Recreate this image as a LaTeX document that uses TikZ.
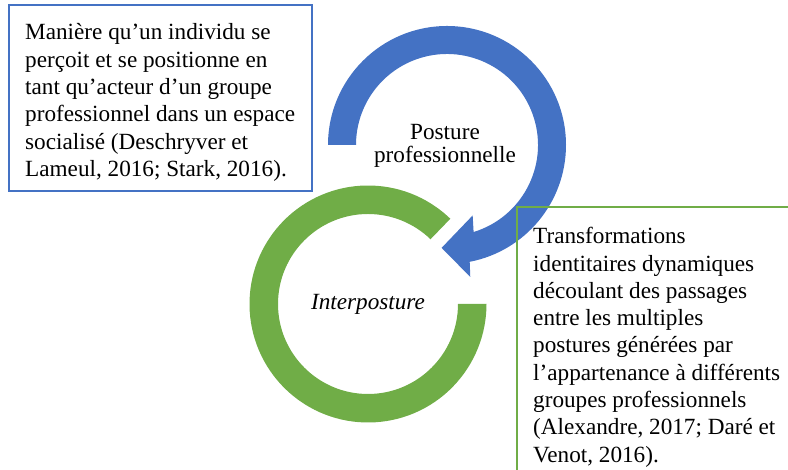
\documentclass[tikz,border=0pt]{standalone}
\usepackage{fontspec}
\setmainfont{Liberation Serif}
\usetikzlibrary{positioning}
\definecolor{ringblue}{HTML}{4472C4}
\definecolor{ringgreen}{HTML}{70AD47}

\begin{document}
\begin{tikzpicture}[x=1pt, y=1pt,
    deftext/.style={align=left, inner sep=0pt, anchor=north west, font=\fontsize{23.2}{27.3}\selectfont},
    ringtext/.style={align=center, inner sep=0pt, font=\fontsize{23.2}{22.5}\selectfont}]
    \useasboundingbox (0,0) rectangle (788,470);
    \clip (0,0) rectangle (788,470);

    % anneau vert (interposture)
    \coordinate (gc) at (368,166);
    \fill[ringgreen] (gc) ++(46:118.5) arc[start angle=46, end angle=360, radius=118.5]
        -- ++(-28.5,0) arc[start angle=360, end angle=46, radius=90] -- cycle;

    % flèche circulaire bleue (posture)
    \coordinate (bc) at (447,325);
    \begin{scope}[shift={(bc)}]
        \fill[ringblue] (180:119) arc[start angle=180, end angle=-79, radius=119]
            -- (-80:134) -- (-93:103) -- (-70:75) -- (-73:91)
            arc[start angle=-73, end angle=180, radius=91] -- cycle;
    \end{scope}

    % étiquettes des anneaux
    \node[ringtext] (posture) at (445,324) {Posture\\professionnelle};
    \node[ringtext, font=\fontsize{23.2}{22.5}\selectfont\itshape] (inter) at (gc) {Interposture};

    % encadrés de définition
    \draw[ringblue, line width=1.6pt] (9,279) rectangle (312,465);
    \node[deftext] (posdef) at (25,446.5) {Manière qu’un individu se\\perçoit et se positionne en\\tant qu’acteur d’un groupe\\professionnel dans un espace\\socialisé (Deschryver et\\Lameul, 2016; Stark, 2016).};

    \draw[ringgreen, line width=1.6pt] (517,263) rectangle (800,-10);
    \node[deftext] (interdef) at (533,242.8) {Transformations\\identitaires dynamiques\\découlant des passages\\entre les multiples\\postures générées par\\l’appartenance à différents\\groupes professionnels\\(Alexandre, 2017; Daré et\\Venot, 2016).};
\end{tikzpicture}
\end{document}
